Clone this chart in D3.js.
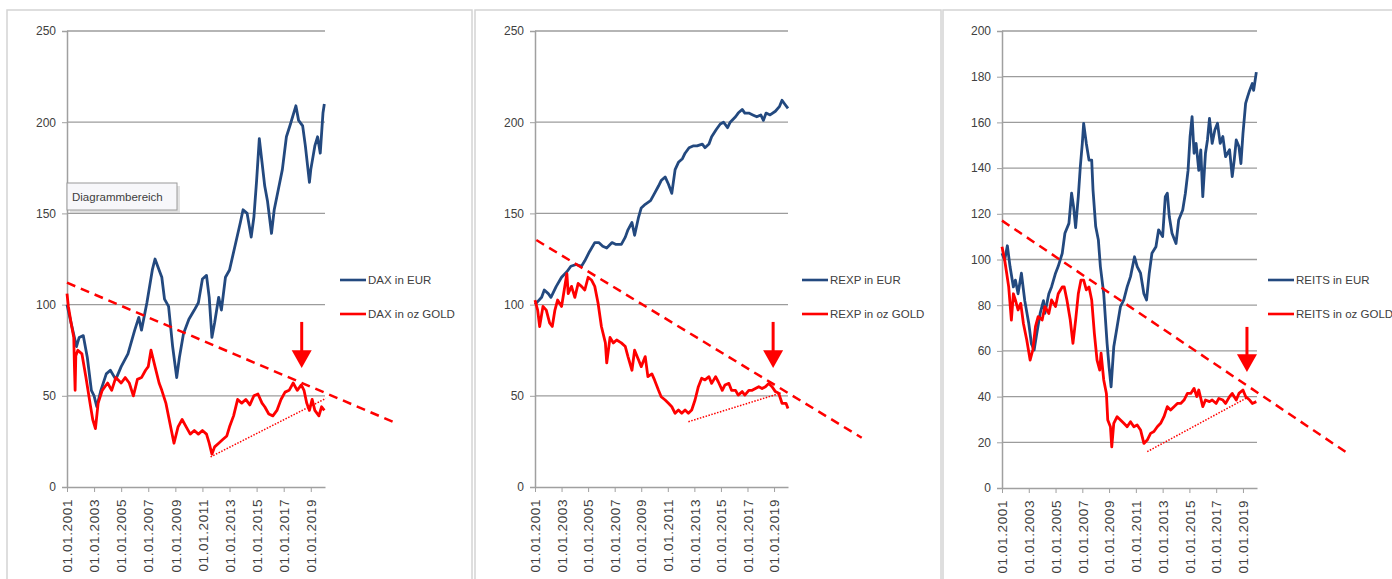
<!DOCTYPE html>
<html>
<head>
<meta charset="utf-8">
<script src="https://cdn.jsdelivr.net/npm/d3@7"></script>
<style>
  body { margin: 0; background: #fff; }
  svg text { font-family: "Liberation Sans", Arial, sans-serif; fill: #404040; }
</style>
</head>
<body>
<div id="sandbox"></div>
<script>
// Data: [year, value]

var daxEur = [[2001.0,100],[2001.3,90],[2001.7,77],[2001.9,82],[2002.2,83],[2002.5,71],[2002.8,53],[2003.0,50],[2003.2,44],[2003.5,53],[2003.9,62],[2004.2,64],[2004.6,59],[2005.0,66],[2005.5,73],[2006.0,86],[2006.3,93],[2006.5,86],[2006.9,101],[2007.3,119],[2007.5,125],[2007.8,119],[2008.0,115],[2008.2,103],[2008.5,99],[2008.8,77],[2009.1,60],[2009.3,71],[2009.6,84],[2010.0,92],[2010.4,97],[2010.7,101],[2011.0,114],[2011.3,116],[2011.5,104],[2011.7,82],[2011.9,90],[2012.2,104],[2012.4,97],[2012.7,115],[2013.0,119],[2013.4,132],[2013.8,145],[2014.0,152],[2014.3,150],[2014.6,137],[2014.8,148],[2015.0,168],[2015.2,191],[2015.4,178],[2015.6,165],[2015.8,157],[2016.1,139],[2016.3,152],[2016.6,163],[2016.9,174],[2017.2,192],[2017.5,199],[2017.9,209],[2018.1,201],[2018.4,198],[2018.6,187],[2018.9,167],[2019.0,174],[2019.3,187],[2019.5,192],[2019.7,183],[2019.9,205],[2020.0,210]];

var daxGold = [[2001.0,106],[2001.1,99],[2001.3,90],[2001.5,82],[2001.55,66],[2001.6,53],[2001.65,72],[2001.8,75],[2002.1,73],[2002.4,60],[2002.7,46],[2002.9,37],[2003.1,32],[2003.3,46],[2003.6,53],[2004.0,57],[2004.3,53],[2004.6,60],[2005.0,57],[2005.3,60],[2005.6,57],[2005.9,50],[2006.2,59],[2006.5,60],[2006.8,64],[2007.0,66],[2007.2,75],[2007.5,66],[2007.8,57],[2008.0,53],[2008.3,46],[2008.6,35],[2008.9,24],[2009.2,33],[2009.5,37],[2009.8,33],[2010.1,29],[2010.4,31],[2010.7,29],[2011.0,31],[2011.3,29],[2011.5,24],[2011.7,18],[2011.9,22],[2012.2,24],[2012.5,26],[2012.8,28],[2013.0,33],[2013.3,39],[2013.6,48],[2013.9,46],[2014.2,48],[2014.5,45],[2014.8,50],[2015.1,51],[2015.4,46],[2015.6,44],[2015.9,40],[2016.2,39],[2016.5,42],[2016.8,48],[2017.1,52],[2017.4,53],[2017.7,57],[2018.0,53],[2018.3,56],[2018.5,53],[2018.7,46],[2018.9,42],[2019.1,48],[2019.3,42],[2019.6,39],[2019.8,44],[2020.0,42]];

var rexpEur = [[2001.0,100],[2001.2,101.6],[2001.5,104],[2001.7,108],[2002.0,106],[2002.2,104],[2002.6,110],[2003.0,115],[2003.4,118],[2003.7,121],[2004.1,122],[2004.5,121],[2004.75,124],[2005.1,129],[2005.5,134],[2005.8,134],[2006.1,132],[2006.4,131],[2006.8,134],[2007.1,133],[2007.5,133],[2007.8,137],[2008.0,141],[2008.3,145],[2008.5,138],[2008.8,148],[2009.0,153],[2009.3,155],[2009.7,157],[2010.0,161],[2010.3,165],[2010.5,168],[2010.8,170],[2011.05,166],[2011.3,161],[2011.55,174],[2011.8,178],[2012.1,180],[2012.3,183],[2012.6,186],[2012.9,187],[2013.2,187],[2013.6,188],[2013.8,186],[2014.1,188],[2014.3,192],[2014.65,196],[2014.95,199],[2015.2,200],[2015.5,197],[2015.7,200],[2016.1,203],[2016.3,205],[2016.6,207],[2016.8,205],[2017.1,205],[2017.4,204],[2017.7,203],[2018.0,204],[2018.2,201],[2018.4,205],[2018.7,204],[2019.1,206],[2019.4,208.5],[2019.6,212],[2019.8,210],[2020.05,207.6]];

var rexpGold = [[2001.0,102.5],[2001.2,97],[2001.35,88],[2001.6,99],[2001.85,97],[2002.1,90],[2002.3,88],[2002.5,97],[2002.7,102.5],[2003.0,99],[2003.2,108],[2003.4,117],[2003.5,106],[2003.75,110],[2004.0,104],[2004.25,111.6],[2004.5,110],[2004.75,108],[2005.0,115],[2005.25,113.5],[2005.5,110],[2005.75,100.7],[2006.0,88],[2006.3,79],[2006.4,68],[2006.65,82],[2006.9,79],[2007.15,80.6],[2007.5,79],[2007.8,77],[2008.0,71.5],[2008.3,64],[2008.5,75],[2008.8,69.6],[2009.0,66],[2009.3,71.5],[2009.5,60.5],[2009.8,62],[2010.0,58.7],[2010.3,53],[2010.5,49.5],[2010.8,47.7],[2011.05,45.9],[2011.3,44],[2011.55,40.4],[2011.8,42.2],[2012.05,40.4],[2012.3,42.2],[2012.55,40.4],[2012.8,42.2],[2013.05,47.7],[2013.3,55],[2013.55,59.6],[2013.8,58.7],[2014.1,60.5],[2014.3,56.8],[2014.6,60.5],[2014.8,57.7],[2015.1,53],[2015.3,55.9],[2015.6,56.8],[2015.8,53],[2016.1,53],[2016.3,50.4],[2016.6,52.3],[2016.8,50.4],[2017.1,53],[2017.35,53],[2017.6,54],[2017.85,55],[2018.1,54],[2018.35,55],[2018.6,56.8],[2018.85,55],[2019.1,52.3],[2019.35,51.4],[2019.6,45.9],[2019.9,45.9],[2020.05,43]];

var reitsEur = [[2001.0,102.7],[2001.2,99.8],[2001.4,106],[2001.6,96.9],[2001.85,88],[2002.0,91],[2002.2,85],[2002.45,94],[2002.7,82],[2003.0,72],[2003.2,63],[2003.4,60.4],[2003.6,67.7],[2003.85,76.4],[2004.1,82],[2004.2,76.4],[2004.5,85],[2004.7,88],[2005.0,94],[2005.2,97],[2005.5,102.7],[2005.7,111.5],[2006.0,115.8],[2006.2,129],[2006.35,123],[2006.5,114],[2006.7,127.5],[2006.85,140.6],[2007.0,150.8],[2007.1,159.6],[2007.3,150.8],[2007.5,143.5],[2007.7,143.5],[2007.8,130.4],[2008.0,114.4],[2008.2,108.5],[2008.35,96.9],[2008.6,85],[2008.85,63.3],[2009.0,53],[2009.15,44.3],[2009.35,61.8],[2009.6,70.6],[2009.85,79.4],[2010.1,82.3],[2010.35,88],[2010.6,92.5],[2010.9,101.2],[2011.1,96.9],[2011.35,94],[2011.6,85],[2011.8,82.3],[2012.0,94],[2012.2,102.7],[2012.5,105.6],[2012.7,113],[2013.0,110],[2013.2,127.5],[2013.35,129],[2013.5,118.7],[2013.7,111.5],[2014.0,107],[2014.2,117.3],[2014.5,121.7],[2014.7,129],[2014.9,139],[2015.05,153.8],[2015.2,162.5],[2015.35,146.5],[2015.5,150.8],[2015.7,139],[2015.85,148],[2016.0,127.5],[2016.2,146.5],[2016.35,152.3],[2016.5,161.8],[2016.7,150.8],[2016.9,156.7],[2017.1,159.6],[2017.3,150.8],[2017.5,153.8],[2017.7,145],[2018.0,148],[2018.2,136.3],[2018.35,143.5],[2018.5,152.3],[2018.7,149.4],[2018.85,142],[2019.0,155],[2019.2,168.3],[2019.35,171.3],[2019.5,174],[2019.7,177],[2019.8,174],[2020.0,182]];

var reitsGold = [[2001.0,105.6],[2001.2,99.8],[2001.35,94],[2001.5,88],[2001.7,73.5],[2001.85,85],[2002.0,82.3],[2002.2,77.9],[2002.4,80.8],[2002.6,72],[2002.85,64.8],[2003.1,56],[2003.3,60.4],[2003.5,70.6],[2003.7,75],[2004.0,73.5],[2004.2,79.4],[2004.5,76.4],[2004.7,82.3],[2005.0,79.4],[2005.2,85],[2005.5,88],[2005.65,88],[2005.85,82.3],[2006.1,73.5],[2006.3,63.3],[2006.5,73.5],[2006.7,85],[2006.9,91],[2007.1,91],[2007.3,86.7],[2007.5,88],[2007.7,82.3],[2007.9,67.7],[2008.1,56],[2008.3,51.6],[2008.4,59],[2008.6,47.3],[2008.8,41.4],[2008.9,29.8],[2009.1,26.8],[2009.2,18],[2009.35,28.3],[2009.6,31.2],[2009.85,29.8],[2010.1,28.3],[2010.35,26.8],[2010.6,29],[2010.85,26.8],[2011.1,27.6],[2011.35,25.4],[2011.6,19.5],[2011.85,21],[2012.1,23.9],[2012.35,24.7],[2012.6,26.8],[2012.85,28.3],[2013.1,31.2],[2013.35,35.6],[2013.6,34.1],[2013.85,35.6],[2014.1,37],[2014.35,37],[2014.6,38.5],[2014.85,41.4],[2015.1,41.4],[2015.35,43.6],[2015.55,40],[2015.7,42.9],[2016.0,35.6],[2016.2,38.5],[2016.5,37.8],[2016.7,38.5],[2017.0,37],[2017.2,39.2],[2017.5,38.5],[2017.7,37],[2018.0,40],[2018.2,41.4],[2018.5,38.5],[2018.7,41.4],[2019.0,42.9],[2019.2,40],[2019.5,38.5],[2019.7,37],[2020.0,37.8]];

// trend lines drawn in the chart: [[year, value], [year, value]]
var daxDashed = [[2001.0,112],[2025.3,35]];
var daxDotted = [[2011.6,16.5],[2020.1,48.5]];
var rexpDashed = [[2001.1,135.4],[2025.6,27]];
var rexpDotted = [[2012.55,35.8],[2019.5,51.5]];
var reitsDashed = [[2001.0,117],[2027.0,14.5]];
var reitsDotted = [[2011.85,15.9],[2019.3,39.5]];

// arrows: [year, top value, head value, tip value]
var daxArrow = [2018.33, 90.5, 75, 65.2];
var rexpArrow = [2018.93, 90.5, 75, 65.2];
var reitsArrow = [2019.3, 70.5, 58.5, 50.8];

var xTicks = [2001, 2003, 2005, 2007, 2009, 2011, 2013, 2015, 2017, 2019];
var yTicks250 = [0, 50, 100, 150, 200, 250];
var yTicks200 = [0, 20, 40, 60, 80, 100, 120, 140, 160, 180, 200];

var legendNames = [["DAX in EUR", "DAX in oz GOLD"], ["REXP in EUR", "REXP in oz GOLD"], ["REITS in EUR", "REITS in oz GOLD"]];

var blue = '#23497f';
var red = '#ff0000';

var svg = d3.select('#sandbox').append('svg')
    .attr('width', 1392)
    .attr('height', 579);

// panel frames
var frames = [[7, 472], [475, 941], [943, 1400]];
frames.forEach(function(f) {
    svg.append('rect')
        .attr('x', f[0]).attr('y', 10)
        .attr('width', f[1] - f[0]).attr('height', 600)
        .attr('fill', 'none')
        .attr('stroke', '#d4d4d4')
        .attr('stroke-width', 1.5);
});

var panels = [
    { left: 67, right: 325, top: 31, bottom: 487, max: 250, ticks: yTicks250, eur: daxEur, gold: daxGold, dashed: daxDashed, dotted: daxDotted, arrow: daxArrow, names: legendNames[0], legendX: 340 },
    { left: 535, right: 788, top: 31, bottom: 487, max: 250, ticks: yTicks250, eur: rexpEur, gold: rexpGold, dashed: rexpDashed, dotted: rexpDotted, arrow: rexpArrow, names: legendNames[1], legendX: 802 },
    { left: 1002, right: 1257, top: 31, bottom: 488, max: 200, ticks: yTicks200, eur: reitsEur, gold: reitsGold, dashed: reitsDashed, dotted: reitsDotted, arrow: reitsArrow, names: legendNames[2], legendX: 1268 }
];

panels.forEach(function(p) {
    var g = svg.append('g');
    var x = d3.scaleLinear().domain([2001, 2020.05]).range([p.left, p.right]);
    var y = d3.scaleLinear().domain([0, p.max]).range([p.bottom, p.top]);

    // gridlines
    g.selectAll('.grid').data(p.ticks.filter(function(d) { return d > 0; }))
        .enter().append('line')
        .attr('x1', p.left).attr('x2', p.right)
        .attr('y1', function(d) { return y(d); })
        .attr('y2', function(d) { return y(d); })
        .attr('stroke', '#9c9c9c')
        .attr('stroke-width', 1.3);

    // y axis
    var yAxis = g.append('g')
        .attr('transform', 'translate(' + p.left + ',0)')
        .call(d3.axisLeft(y).tickValues(p.ticks).tickSize(5).tickPadding(6));
    yAxis.select('.domain').attr('stroke', '#a0a0a0').attr('stroke-width', 1.5);
    yAxis.selectAll('.tick line').attr('stroke', '#a0a0a0');
    yAxis.selectAll('text').style('font-size', '12px').attr('fill', '#404040');

    // x axis, labels turned to read upwards
    var xAxis = g.append('g')
        .attr('transform', 'translate(0,' + p.bottom + ')')
        .call(d3.axisBottom(x).tickValues(xTicks).tickSize(5).tickSizeOuter(0)
            .tickFormat(function(d) { return '01.01.' + d; }));
    xAxis.select('.domain').attr('stroke', '#a0a0a0').attr('stroke-width', 1.3);
    xAxis.selectAll('.tick line').attr('stroke', '#a0a0a0');
    xAxis.selectAll('text')
        .style('font-size', '13.5px')
        .style('letter-spacing', '0.6px')
        .attr('fill', '#404040')
        .attr('text-anchor', 'end')
        .attr('dy', '0.35em')
        .attr('transform', 'translate(0,12) rotate(-90)')
        .attr('x', 0).attr('y', 0);

    var line = d3.line()
        .x(function(d) { return x(d[0]); })
        .y(function(d) { return y(d[1]); });

    g.append('path').datum(p.eur)
        .attr('d', line)
        .attr('fill', 'none')
        .attr('stroke', blue)
        .attr('stroke-width', 2.8)
        .attr('stroke-linejoin', 'round');

    g.append('path').datum(p.gold)
        .attr('d', line)
        .attr('fill', 'none')
        .attr('stroke', red)
        .attr('stroke-width', 2.8)
        .attr('stroke-linejoin', 'round');

    // trend lines
    g.append('path').datum(p.dashed)
        .attr('d', line)
        .attr('fill', 'none')
        .attr('stroke', red)
        .attr('stroke-width', 2.5)
        .attr('stroke-dasharray', '9,6');

    g.append('path').datum(p.dotted)
        .attr('d', line)
        .attr('fill', 'none')
        .attr('stroke', red)
        .attr('stroke-width', 1.5)
        .attr('stroke-dasharray', '1.5,1.5');

    // arrow
    var ax = x(p.arrow[0]);
    g.append('line')
        .attr('x1', ax).attr('x2', ax)
        .attr('y1', y(p.arrow[1])).attr('y2', y(p.arrow[2]) + 1)
        .attr('stroke', red)
        .attr('stroke-width', 3);
    g.append('path')
        .attr('d', 'M' + (ax - 10) + ',' + y(p.arrow[2]) + 'L' + (ax + 10) + ',' + y(p.arrow[2]) + 'L' + ax + ',' + y(p.arrow[3]) + 'Z')
        .attr('fill', red);

    // legend
    var lg = g.append('g');
    [[p.names[0], blue, 280], [p.names[1], red, 314]].forEach(function(l) {
        lg.append('line')
            .attr('x1', p.legendX).attr('x2', p.legendX + 26)
            .attr('y1', l[2]).attr('y2', l[2])
            .attr('stroke', l[1])
            .attr('stroke-width', 2.6);
        lg.append('text')
            .attr('x', p.legendX + 28).attr('y', l[2])
            .attr('dy', '0.35em')
            .style('font-size', '11.5px')
            .text(l[0]);
    });
});

// "Diagrammbereich" tooltip in the first panel
var tip = svg.append('g');
tip.append('rect')
    .attr('x', 70).attr('y', 186)
    .attr('width', 110).attr('height', 27)
    .attr('fill', '#cfcfcf')
    .attr('opacity', 0.6);
tip.append('rect')
    .attr('x', 67).attr('y', 183)
    .attr('width', 110).attr('height', 27)
    .attr('fill', '#f7f7fa')
    .attr('stroke', '#9a9a9a')
    .attr('stroke-width', 1);
tip.append('text')
    .attr('x', 72).attr('y', 197)
    .attr('dy', '0.35em')
    .style('font-size', '11.5px')
    .attr('fill', '#6b6b6b')
    .text('Diagrammbereich');
</script>
</body>
</html>
